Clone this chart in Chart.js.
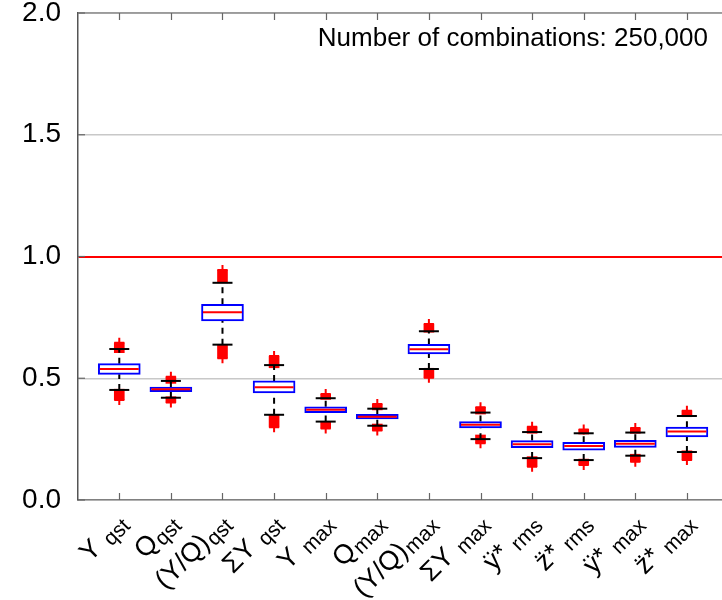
<!DOCTYPE html>
<html>
<head>
<meta charset="utf-8">
<script src="https://cdn.jsdelivr.net/npm/chart.js@4.4.0/dist/chart.umd.min.js"></script>
<style>
  html, body { margin: 0; padding: 0; background: #fff; }
  #wrap { width: 722px; height: 600px; }
</style>
</head>
<body>
<div id="wrap"><canvas id="boxChart" width="722" height="600"></canvas></div>
<script>
// Category labels: main part + subscript
const labelMain = ['Y ', 'Q', '(Y/Q)', '\u03A3Y ', 'Y ', 'Q', '(Y/Q)', '\u03A3Y ', '\u00FF* ', 'z\u0308* ', '\u00FF* ', 'z\u0308* '];
const labelSub = ['qst', 'qst', 'qst', 'qst', 'max', 'max', 'max', 'max', 'rms', 'rms', 'max', 'max'];

// Box statistics
const q1 =          [0.516, 0.445, 0.735, 0.440, 0.359, 0.333, 0.600, 0.296, 0.215, 0.205, 0.216, 0.259];
const median =      [0.538, 0.455, 0.771, 0.463, 0.371, 0.342, 0.619, 0.309, 0.229, 0.222, 0.231, 0.281];
const q3 =          [0.560, 0.464, 0.804, 0.489, 0.383, 0.352, 0.639, 0.322, 0.244, 0.237, 0.245, 0.299];
const whiskerLow =  [0.452, 0.420, 0.638, 0.350, 0.322, 0.305, 0.538, 0.250, 0.172, 0.164, 0.182, 0.197];
const whiskerHigh = [0.620, 0.489, 0.892, 0.554, 0.418, 0.375, 0.693, 0.359, 0.279, 0.274, 0.277, 0.345];

// Outlier ranges (dense red "+" markers)
const outHighFrom = [0.605, 0.479, 0.892, 0.543, 0.413, 0.370, 0.689, 0.353, 0.274, 0.271, 0.274, 0.342];
const outHighTo =   [0.646, 0.506, 0.945, 0.591, 0.435, 0.394, 0.723, 0.381, 0.301, 0.290, 0.296, 0.367];
const outLowFrom =  [0.455, 0.424, 0.637, 0.349, 0.322, 0.312, 0.541, 0.267, 0.178, 0.168, 0.188, 0.202];
const outLowTo =    [0.411, 0.400, 0.582, 0.299, 0.294, 0.285, 0.502, 0.233, 0.137, 0.144, 0.157, 0.164];

const yTicks = [0, 0.5, 1.0, 1.5, 2.0];
const refLine = 1.0;
const noteText = 'Number of combinations: 250,000';

const FONT = "'Liberation Sans', Arial, sans-serif";
const positions = labelMain.map((_, i) => i + 1);

// datasets built from the arrays
const boxData = positions.map((x, i) => ({ x: x, y: [q1[i], q3[i]] }));
const medianData = positions.map((x, i) => ({ x: x, y: median[i] }));
const capData = [];
const whiskerData = [];
const outHighData = [];
const outLowData = [];
const crossData = [];
positions.forEach((x, i) => {
  capData.push({ x: x, y: whiskerLow[i] }, { x: x, y: whiskerHigh[i] });
  whiskerData.push(
    { x: x, y: whiskerLow[i] }, { x: x, y: q1[i] }, { x: x, y: null },
    { x: x, y: q3[i] }, { x: x, y: whiskerHigh[i] }, { x: x, y: null }
  );
  outHighData.push({ x: x, y: [outHighFrom[i], outHighTo[i]] });
  outLowData.push({ x: x, y: [outLowTo[i], outLowFrom[i]] });
  crossData.push({ x: x, y: outHighTo[i] }, { x: x, y: outLowTo[i] });
});

// ticks inward, top frame, rotated labels, note
const decorPlugin = {
  id: 'decor',
  afterDraw(chart) {
    const { ctx, chartArea: a, scales: { x, y } } = chart;
    ctx.save();
    ctx.strokeStyle = '#8c8c8c';
    ctx.lineWidth = 1.5;
    ctx.beginPath();
    ctx.moveTo(a.left, a.top);
    ctx.lineTo(a.right, a.top);
    ctx.stroke();

    ctx.strokeStyle = '#666';
    ctx.lineWidth = 1.2;
    positions.forEach(p => {
      const px = Math.round(x.getPixelForValue(p)) + 0.5;
      ctx.beginPath();
      ctx.moveTo(px, a.bottom); ctx.lineTo(px, a.bottom - 7);
      ctx.moveTo(px, a.top); ctx.lineTo(px, a.top + 7);
      ctx.stroke();
    });
    yTicks.forEach(v => {
      const py = y.getPixelForValue(v);
      ctx.beginPath();
      ctx.moveTo(a.left, py); ctx.lineTo(a.left + 7, py);
      ctx.stroke();
    });

    // x labels, rotated 45 degrees, with subscripts
    ctx.fillStyle = '#000';
    positions.forEach((p, i) => {
      const px = x.getPixelForValue(p);
      ctx.save();
      ctx.translate(px + 12, a.bottom + 27);
      ctx.rotate(-Math.PI / 4);
      ctx.textAlign = 'right';
      ctx.textBaseline = 'alphabetic';
      ctx.font = '21px ' + FONT;
      const wSub = ctx.measureText(labelSub[i]).width;
      ctx.fillText(labelSub[i], 0, 0);
      ctx.font = '27px ' + FONT;
      ctx.fillText(labelMain[i], -wSub - 1, -4);
      ctx.restore();
    });

    ctx.font = '26px ' + FONT;
    ctx.textAlign = 'right';
    ctx.textBaseline = 'alphabetic';
    ctx.fillText(noteText, 708, 46);
    ctx.restore();
  }
};

new Chart(document.getElementById('boxChart'), {
  type: 'bar',
  data: {
    datasets: [
      {
        type: 'line', data: capData, showLine: false, order: 1,
        pointStyle: 'line', pointRadius: 10, pointBorderColor: '#000', pointBorderWidth: 2
      },
      {
        type: 'line', data: medianData, showLine: false, order: 2,
        pointStyle: 'line', pointRadius: 19.5, pointBorderColor: '#ff0000', pointBorderWidth: 2
      },
      {
        data: boxData, order: 3, grouped: false, barThickness: 42,
        backgroundColor: '#ffffff', borderColor: '#0000ff', borderWidth: 2, borderSkipped: false
      },
      {
        type: 'line', data: whiskerData, order: 4, spanGaps: false,
        borderColor: '#000', borderWidth: 2, borderDash: [6, 5], pointRadius: 0
      },
      {
        type: 'line', data: crossData, showLine: false, order: 5,
        pointStyle: 'cross', pointRadius: 5, pointBorderColor: '#ff0000', pointBorderWidth: 2
      },
      {
        data: outHighData, order: 6, grouped: false, barThickness: 10,
        backgroundColor: '#ff0000', borderWidth: 0
      },
      {
        data: outLowData, order: 6, grouped: false, barThickness: 10,
        backgroundColor: '#ff0000', borderWidth: 0
      }
    ]
  },
  options: {
    responsive: false,
    animation: false,
    devicePixelRatio: 1,
    layout: { autoPadding: false, padding: { top: 13, right: 0, left: 0, bottom: 0 } },
    plugins: { legend: { display: false }, tooltip: { enabled: false } },
    scales: {
      x: {
        type: 'linear', min: 0.2, max: 12.68, offset: false,
        grid: { display: false },
        ticks: { display: false },
        border: { color: '#808080', width: 1.5 },
        afterFit(s) { s.height = 100; s.paddingLeft = 0; s.paddingRight = 0; }
      },
      y: {
        min: 0, max: 2,
        afterBuildTicks(s) { s.ticks = yTicks.map(v => ({ value: v })); },
        ticks: {
          callback: v => Number(v).toFixed(1),
          font: { family: FONT, size: 28, lineHeight: 0.9 },
          color: '#000',
          padding: 17
        },
        grid: {
          drawTicks: false,
          color: c => c.tick && c.tick.value === refLine ? '#ff0000' : '#c8c8c8',
          lineWidth: c => c.tick && c.tick.value === refLine ? 2 : 1.5
        },
        border: { color: '#555', width: 1.5 },
        afterFit(s) { s.width = 78; s.paddingTop = 0; s.paddingBottom = 0; }
      }
    }
  },
  plugins: [decorPlugin]
});
</script>
</body>
</html>
